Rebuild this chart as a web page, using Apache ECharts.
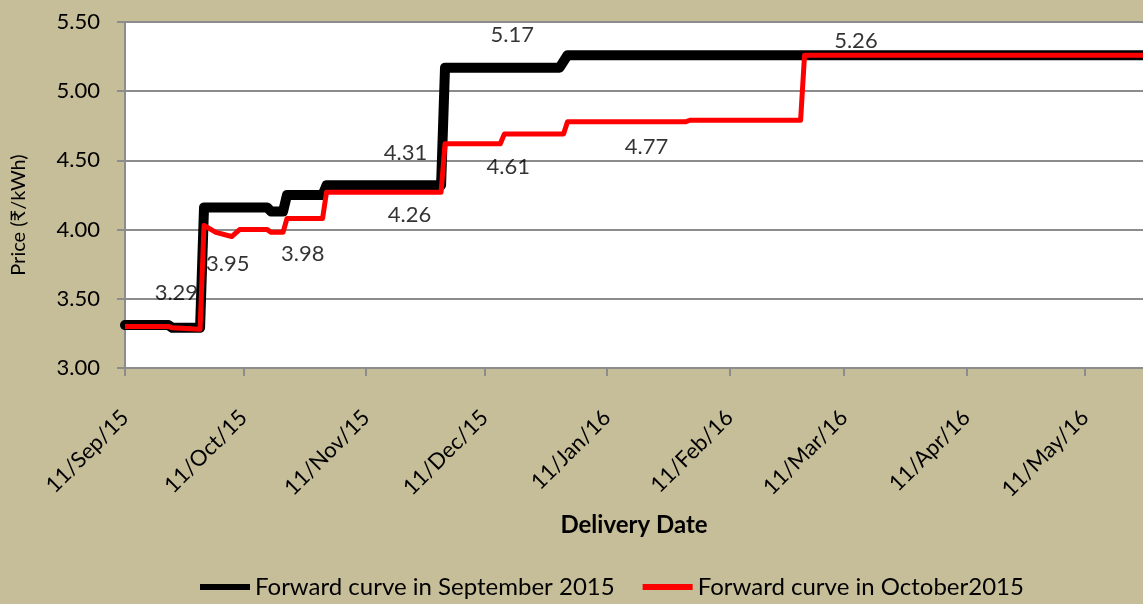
<!DOCTYPE html>
<html lang="en">
	<head>
		<meta charset="UTF-8" />
		<title>Forward curve</title>
		<script src="https://cdn.jsdelivr.net/npm/echarts@6/dist/echarts.min.js"></script>
		<style>
			html, body { margin: 0; padding: 0; background: #c6bd99; }
			#chart { width: 1143px; height: 604px; }
		</style>
	</head>
	<body>
		<div id="chart"></div>
		<script>
			// corner points of the two step curves (date, price)
			const septDates = ["2015-09-11", "2015-09-22", "2015-09-23", "2015-09-30", "2015-10-01", "2015-10-17", "2015-10-18", "2015-10-21", "2015-10-22", "2015-10-31", "2015-11-01", "2015-11-30", "2015-12-01", "2015-12-30", "2016-01-01", "2016-05-26"];
			const septValues = [3.31, 3.31, 3.29, 3.29, 4.16, 4.16, 4.13, 4.13, 4.25, 4.25, 4.32, 4.32, 5.17, 5.17, 5.26, 5.26];

			const octDates = ["2015-09-11", "2015-09-22", "2015-09-23", "2015-09-30", "2015-10-01", "2015-10-04", "2015-10-08", "2015-10-10", "2015-10-17", "2015-10-18", "2015-10-21", "2015-10-22", "2015-10-31", "2015-11-01", "2015-11-30", "2015-12-01", "2015-12-15", "2015-12-16", "2015-12-31", "2016-01-01", "2016-01-31", "2016-02-01", "2016-02-29", "2016-03-01", "2016-05-26"];
			const octValues = [3.3, 3.3, 3.29, 3.28, 4.03, 3.98, 3.95, 4.0, 4.0, 3.98, 3.98, 4.08, 4.08, 4.27, 4.27, 4.62, 4.62, 4.69, 4.69, 4.78, 4.78, 4.79, 4.79, 5.26, 5.26];

			// data labels written on the chart
			const labelDates = ["2015-09-24", "2015-10-07", "2015-10-26", "2015-11-22", "2015-11-21", "2015-12-17", "2015-12-18", "2016-01-21", "2016-03-14"];
			const labelValues = [3.29, 3.95, 3.98, 4.26, 4.31, 4.61, 5.17, 4.77, 5.26];
			const labelShift = [-35, 27, 22, 21, -34, 22, -33, 24, -14];

			const tickDates = ["2015-09-11", "2015-10-11", "2015-11-11", "2015-12-11", "2016-01-11", "2016-02-11", "2016-03-11", "2016-04-11", "2016-05-11"];
			const seriesNames = ["Forward curve in September 2015", "Forward curve in October2015"];

			const months = ["Jan", "Feb", "Mar", "Apr", "May", "Jun", "Jul", "Aug", "Sep", "Oct", "Nov", "Dec"];
			const toTime = (s) => {
				const p = s.split("-");
				return Date.UTC(+p[0], +p[1] - 1, +p[2]);
			};
			const fmtDate = (v) => {
				const d = new Date(v);
				return d.getUTCDate() + "/" + months[d.getUTCMonth()] + "/" + String(d.getUTCFullYear()).slice(2);
			};

			const font = "Lato, 'Open Sans', sans-serif";
			const gray = "#8c8c8c";
			const ticks = tickDates.map(toTime);

			const chart = echarts.init(document.getElementById("chart"));
			chart.setOption({
				backgroundColor: "#c6bd99",
				textStyle: { fontFamily: font, color: "#000" },
				animation: false,
				grid: {
					left: 125, right: 0, top: 22, bottom: 236,
					outerBoundsMode: "none",
					show: true, backgroundColor: "#fff", borderWidth: 0
				},
				legend: {
					bottom: 0,
					left: 195,
					itemWidth: 50,
					itemHeight: 6,
					itemGap: 28,
					icon: "rect",
					textStyle: { fontFamily: font, fontSize: 24, color: "#000" },
					data: seriesNames
				},
				xAxis: {
					// dates as timestamps on a value axis, ticks on the 11th of each month
					type: "value",
					min: toTime("2015-09-11"),
					max: toTime("2016-05-26") - 8 * 3600 * 1000,
					name: "Delivery Date",
					nameLocation: "middle",
					nameGap: 145,
					nameTextStyle: { fontFamily: font, fontSize: 24, fontWeight: "bold", color: "#000" },
					axisLine: { show: true, lineStyle: { color: gray, width: 2 } },
					axisTick: { show: true, customValues: ticks, length: 8, lineStyle: { color: gray, width: 2 } },
					axisLabel: {
						customValues: ticks,
						rotate: 45,
						margin: 46,
						fontSize: 22,
						color: "#000",
						fontFamily: font,
						formatter: fmtDate
					},
					splitLine: { show: false }
				},
				yAxis: {
					type: "value",
					min: 3,
					max: 5.5,
					interval: 0.5,
					name: "Price (₹/kWh)",
					nameLocation: "middle",
					nameRotate: 90,
					nameGap: 96,
					nameTextStyle: { fontFamily: font, fontSize: 20, color: "#000", padding: [0, 40, 0, 0] },
					axisLine: { show: true, lineStyle: { color: gray, width: 2 } },
					axisTick: { show: true, inside: false, length: 8, lineStyle: { color: gray, width: 2 } },
					axisLabel: { fontSize: 22, margin: 25, color: "#000", fontFamily: font, formatter: (v) => v.toFixed(2) },
					splitLine: { show: true, lineStyle: { color: gray, width: 2 } }
				},
				series: [
					{
						name: seriesNames[0],
						type: "line",
						symbol: "none",
						color: "#000",
						lineStyle: { color: "#000", width: 10, join: "round", cap: "round" },
						data: septDates.map((d, i) => [toTime(d), septValues[i]]),
						z: 2
					},
					{
						name: seriesNames[1],
						type: "line",
						symbol: "none",
						color: "#ff0000",
						lineStyle: { color: "#ff0000", width: 5, join: "round" },
						data: octDates.map((d, i) => [toTime(d), octValues[i]]),
						z: 3
					},
					{
						type: "scatter",
						symbolSize: 1,
						itemStyle: { color: "rgba(0,0,0,0)" },
						silent: true,
						z: 5,
						label: {
							show: true,
							position: "inside",
							fontSize: 22,
							fontFamily: font,
							color: "#000",
							formatter: (p) => p.value[1].toFixed(2)
						},
						data: labelDates.map((d, i) => ({
							value: [toTime(d), labelValues[i]],
							label: { offset: [0, labelShift[i]] }
						}))
					}
				]
			});
		</script>
	</body>
</html>
